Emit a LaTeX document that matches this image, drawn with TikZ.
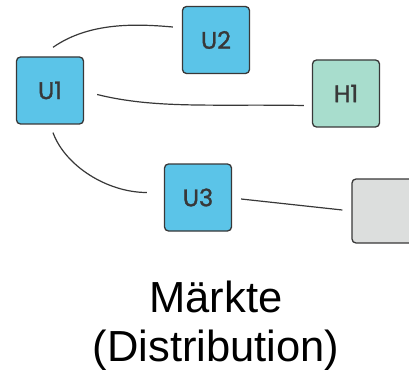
\documentclass[tikz,border=0pt]{standalone}
\usepackage{fontspec}
\usepackage[table]{xcolor}
\usepackage{tikz}
\newfontfamily\boxfont[FakeBold=1.2]{Poppins}
\newfontfamily\capfont{Liberation Sans}
\definecolor{unitblue}{RGB}{91,196,232}
\definecolor{hubgreen}{RGB}{168,221,205}
\definecolor{marketgray}{RGB}{220,222,221}
\definecolor{edgegray}{RGB}{56,56,56}
\tikzset{
  unitbox/.style={draw=edgegray, line width=1.3pt, rounded corners=4pt, fill=unitblue,
                  minimum width=67pt, minimum height=67pt, inner sep=0pt,
                  text=edgegray, font=\boxfont\fontsize{24}{26}\selectfont},
  link/.style={draw=edgegray, line width=1.2pt}
}
\begin{document}
\begin{tikzpicture}[x=1pt, y=1pt]
        \useasboundingbox (0,0) rectangle (409,378);                          %
        \clip (0,0) rectangle (409,378);                                      %
        \node [unitbox]                  (u1)   at (50,287.5)  {U1};          %U1
        \node [unitbox]                  (u2)   at (216,338)   {U2};          %U2
        \node [unitbox, fill=hubgreen]   (h1)   at (346,284.5) {H1};          %H1
        \node [unitbox]                  (u3)   at (198,180.5) {U3};          %U3
        \node [unitbox, fill=marketgray, minimum height=64pt] (mkt) at (385.5,167) {}; %market

        \draw [link] ([shift={(3pt,9pt)}]u1.north)
              .. controls +(35:45pt) and +(175:35pt) .. ([shift={(-9pt,13pt)}]u2.west);   %U1-U2
        \draw [link] ([shift={(13pt,-4pt)}]u1.east)
              .. controls +(-14:60pt) and +(179:90pt) .. ([shift={(-8pt,-12pt)}]h1.west); %U1-H1
        \draw [link] ([shift={(3pt,-8pt)}]u1.south)
              .. controls +(-70:35pt) and +(180:40pt) .. ([shift={(-17pt,5pt)}]u3.west);  %U1-U3
        \draw [link] ([shift={(9pt,-1.5pt)}]u3.east) -- ([shift={(-9pt,1pt)}]mkt.west);   %U3-market

        \node [align=center, inner sep=0pt, font=\capfont\fontsize{43.5}{49}\selectfont]
              (title) at (216,52) {Märkte\\(Distribution)};                    %
\end{tikzpicture}
\end{document}
